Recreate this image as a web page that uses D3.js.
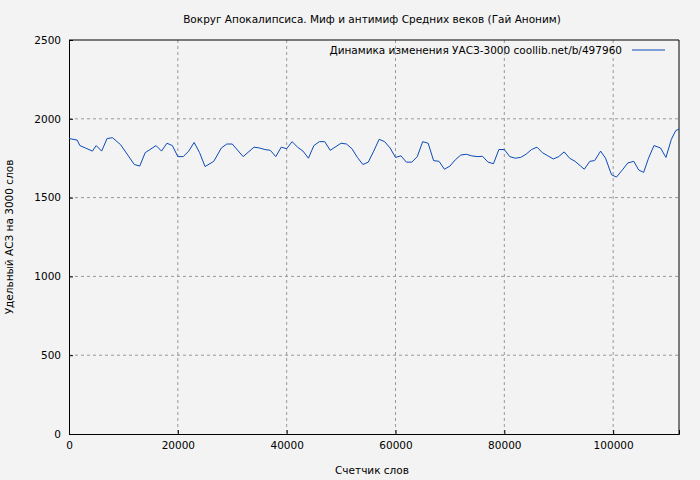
<!DOCTYPE html><html><head><meta charset="utf-8"><script src="https://cdn.jsdelivr.net/npm/d3@7"></script>
<style>body{margin:0;background:#f3f3f3}text{font-family:"DejaVu Sans";font-size:10.5px;fill:#000}</style></head><body><svg id="c" width="700" height="480"></svg><script>
const xWords=[0,1.5,2,3,4.3,5,6,7,8,9.5,12,13,14,16,17,18,19,20,21,22,23,24,25,26.6,28,29,30,32,34,35,36,37,38,39,40,41,42,43,44,45,46,47,48,50,51,52,53,54,55,56,57,58,59,60,61,62,63,64,65,66,67,68,69,70,71,72,73,74,75,76,77,78,79,80,81,82,83,84,85,86,87,88,89,90,91,92,93,94.7,95.7,96.6,97.7,98.6,99.7,100.6,101.8,102.7,103.8,104.7,105.6,106.5,107.5,108.7,109.7,110.7,111.5,112.1];
const yVals=[1875,1865,1830,1815,1795,1830,1795,1875,1880,1835,1710,1700,1785,1830,1795,1845,1830,1760,1760,1795,1850,1785,1697,1730,1815,1840,1840,1760,1820,1815,1805,1800,1760,1820,1810,1855,1820,1795,1750,1830,1855,1855,1800,1845,1840,1810,1755,1710,1725,1795,1870,1855,1815,1755,1765,1725,1725,1760,1855,1845,1735,1730,1680,1700,1740,1770,1775,1765,1760,1762,1725,1715,1805,1805,1760,1750,1755,1775,1805,1820,1785,1765,1745,1760,1790,1750,1730,1680,1730,1735,1795,1750,1645,1630,1680,1720,1730,1675,1660,1750,1830,1815,1755,1870,1925,1935];
const yTicks=[0,500,1000,1500,2000,2500];
const xTicks=[0,20000,40000,60000,80000,100000];
const svg=d3.select("#c");
const L=69,R=679,T=40,B=434;
const x=d3.scaleLinear().domain([0,112100]).range([L,R]);
const y=d3.scaleLinear().domain([0,2500]).range([B,T]);
const g=svg.append("g");
xTicks.slice(1).forEach(t=>g.append("line").attr("x1",x(t)).attr("x2",x(t)).attr("y1",T).attr("y2",B).attr("stroke","#999").attr("stroke-dasharray","3,3"));
yTicks.slice(1,-1).forEach(t=>g.append("line").attr("x1",L).attr("x2",R).attr("y1",y(t)).attr("y2",y(t)).attr("stroke","#999").attr("stroke-dasharray","3,3"));
svg.append("g").attr("transform",`translate(0,${B})`).call(d3.axisBottom(x).tickValues(xTicks).tickFormat(d3.format("d")).tickSize(-4).tickPadding(8)).call(a=>a.select(".domain").attr("stroke","#000"));
svg.append("g").attr("transform",`translate(${L},0)`).call(d3.axisLeft(y).tickValues(yTicks).tickFormat(d3.format("d")).tickSize(-4).tickPadding(8)).call(a=>a.select(".domain").attr("stroke","#000"));
svg.selectAll(".tick text").style("font-family","DejaVu Sans").style("font-size","10.5px");
svg.append("line").attr("x1",R).attr("x2",R).attr("y1",T).attr("y2",B).attr("stroke","#000");
svg.append("line").attr("x1",L).attr("x2",R).attr("y1",T).attr("y2",T).attr("stroke","#000");
const data=xWords.map((w,i)=>[w*1000,yVals[i]]);
svg.append("path").datum(data).attr("fill","none").attr("stroke","#0b4ab8").attr("stroke-width",1).attr("d",d3.line().x(d=>x(d[0])).y(d=>y(d[1])));
svg.append("text").attr("x",372).attr("y",23).attr("text-anchor","middle").text("Вокруг Апокалипсиса. Миф и антимиф Средних веков (Гай Аноним)");
svg.append("text").attr("x",372).attr("y",474).attr("text-anchor","middle").text("Счетчик слов");
svg.append("text").attr("transform","translate(13,237) rotate(-90)").attr("text-anchor","middle").text("Удельный АСЗ на 3000 слов");
svg.append("text").attr("x",622).attr("y",54).attr("text-anchor","end").text("Динамика изменения УАСЗ-3000  coollib.net/b/497960");
svg.append("line").attr("x1",632).attr("x2",665).attr("y1",50).attr("y2",50).attr("stroke","#0b4ab8");
</script></body></html>
